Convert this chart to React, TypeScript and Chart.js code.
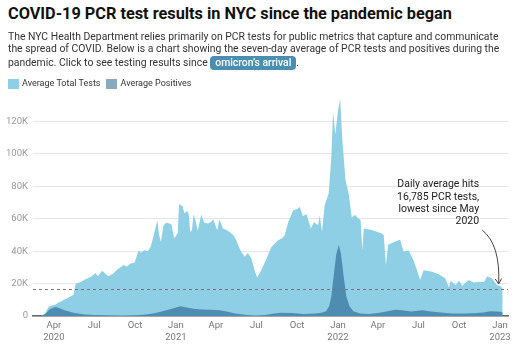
import React, { useEffect, useRef } from "react";
import { Chart, registerables } from "chart.js";

Chart.register(...registerables);

const TITLE = "COVID-19 PCR test results in NYC since the pandemic began";
const DESC_LINES = [
  "The NYC Health Department relies primarily on PCR tests for public metrics that capture and communicate",
  "the spread of COVID. Below is a chart showing the seven-day average of PCR tests and positives during the",
  "pandemic. Click to see testing results since ",
];
const BUTTON_TEXT = "omicron\u2019s arrival";
const SERIES_NAMES = ["Average Total Tests", "Average Positives"];

const TEST_DATES = [
  "2020-03-03", "2020-03-10", "2020-03-14", "2020-03-20", "2020-03-27", "2020-04-04", "2020-04-12", "2020-04-18",
  "2020-04-23", "2020-04-30", "2020-05-08", "2020-05-15", "2020-05-20", "2020-05-31", "2020-06-10", "2020-06-23",
  "2020-07-04", "2020-07-09", "2020-07-19", "2020-07-26", "2020-08-02", "2020-08-12", "2020-08-22", "2020-09-05",
  "2020-09-12", "2020-09-21", "2020-09-30", "2020-10-09", "2020-10-14", "2020-10-22", "2020-10-29", "2020-11-05",
  "2020-11-12", "2020-11-20", "2020-11-24", "2020-11-28", "2020-12-04", "2020-12-10", "2020-12-17", "2020-12-22",
  "2020-12-28", "2021-01-05", "2021-01-08", "2021-01-16", "2021-01-20", "2021-01-26", "2021-01-30", "2021-02-02",
  "2021-02-06", "2021-02-10", "2021-02-15", "2021-02-19", "2021-02-27", "2021-03-06", "2021-03-14", "2021-03-21",
  "2021-03-26", "2021-04-04", "2021-04-09", "2021-04-17", "2021-04-25", "2021-05-02", "2021-05-10", "2021-05-17",
  "2021-05-24", "2021-05-28", "2021-06-05", "2021-06-12", "2021-06-20", "2021-06-27", "2021-07-03", "2021-07-12",
  "2021-07-24", "2021-08-04", "2021-08-19", "2021-08-28", "2021-09-03", "2021-09-11", "2021-09-22", "2021-10-01",
  "2021-10-07", "2021-10-14", "2021-10-22", "2021-11-01", "2021-11-08", "2021-11-17", "2021-11-21", "2021-11-26",
  "2021-12-02", "2021-12-11", "2021-12-17", "2021-12-21", "2021-12-26", "2022-01-01", "2022-01-06", "2022-01-11",
  "2022-01-18", "2022-01-25", "2022-02-01", "2022-02-08", "2022-02-17", "2022-02-21", "2022-02-25", "2022-02-28",
  "2022-03-18", "2022-04-10", "2022-04-14", "2022-04-19", "2022-04-24", "2022-05-10", "2022-05-21", "2022-05-29",
  "2022-06-09", "2022-06-20", "2022-06-28", "2022-07-05", "2022-07-13", "2022-08-01", "2022-08-16", "2022-08-31",
  "2022-09-08", "2022-09-12", "2022-09-23", "2022-10-01", "2022-10-08", "2022-10-15", "2022-10-23", "2022-11-03",
  "2022-11-14", "2022-11-26", "2022-12-03", "2022-12-14", "2022-12-25", "2023-01-02", "2023-01-07",
];
const TOTAL_TESTS = [
  0, 800, 2500, 5500, 6500, 7000, 8500, 9000,
  10000, 10800, 12000, 13000, 19700, 21000, 22500, 24000,
  26500, 24500, 27900, 26000, 24600, 26000, 28700, 31400,
  30500, 32400, 33000, 40600, 39000, 40500, 40000, 42600,
  50000, 59000, 50000, 45700, 56000, 57500, 57000, 56500,
  47800, 51000, 69000, 67700, 63200, 65000, 62500, 51900,
  53000, 62800, 58000, 52600, 62500, 57600, 57000, 58000,
  59700, 52900, 59500, 54000, 53000, 51900, 50000, 46800,
  42000, 39600, 36500, 38800, 35500, 28300, 23800, 28300,
  35500, 42600, 46800, 48000, 49800, 58000, 65200, 66000,
  67300, 61500, 63000, 54000, 58000, 56000, 62100, 51900,
  68300, 75500, 98000, 125700, 112000, 126800, 134000, 108000,
  83700, 75500, 61000, 62300, 60000, 59000, 40600, 54000,
  53000, 50900, 50000, 31400, 44000, 46000, 47000, 39600,
  40600, 34500, 28300, 22200, 28300, 27300, 25800, 23200,
  17600, 21700, 19100, 21700, 18700, 20300, 22200, 20700,
  21200, 21000, 24600, 23200, 19100, 18500, 16785,
];

const POS_DATES = [
  "2020-03-03", "2020-03-14", "2020-03-22", "2020-04-03", "2020-04-10", "2020-04-25", "2020-05-15", "2020-06-10",
  "2020-07-01", "2020-08-01", "2020-09-01", "2020-10-01", "2020-10-20", "2020-11-10", "2020-11-25", "2020-12-15",
  "2021-01-05", "2021-01-12", "2021-01-25", "2021-02-10", "2021-02-28", "2021-03-20", "2021-04-10", "2021-04-25",
  "2021-05-15", "2021-06-10", "2021-07-01", "2021-07-20", "2021-08-10", "2021-08-25", "2021-09-20", "2021-10-15",
  "2021-11-10", "2021-11-25", "2021-12-05", "2021-12-12", "2021-12-17", "2021-12-22", "2021-12-28", "2022-01-03",
  "2022-01-08", "2022-01-14", "2022-01-20", "2022-01-27", "2022-02-05", "2022-02-20", "2022-03-10", "2022-04-01",
  "2022-04-20", "2022-05-10", "2022-05-25", "2022-06-15", "2022-07-10", "2022-07-25", "2022-08-15", "2022-09-15",
  "2022-10-15", "2022-11-10", "2022-11-25", "2022-12-10", "2022-12-25", "2023-01-07",
];
const POSITIVES = [
  0, 1500, 4000, 5500, 5300, 3500, 2000, 1000,
  600, 400, 350, 450, 700, 1500, 2500, 3800,
  5500, 6000, 5200, 4500, 4000, 3800, 3600, 2800,
  1500, 600, 300, 600, 1500, 2000, 1800, 1300,
  1500, 2000, 3000, 6000, 12000, 24000, 38000, 44000,
  38000, 24000, 12000, 6000, 3000, 1500, 1300, 1800,
  2800, 3800, 3600, 2800, 3500, 3000, 2300, 1600,
  1500, 1800, 2200, 3000, 2800, 2500,
];

const X_TICK_DATES = [
  "2020-04-01", "2020-07-01", "2020-10-01", "2021-01-01", "2021-04-01", "2021-07-01",
  "2021-10-01", "2022-01-01", "2022-04-01", "2022-07-01", "2022-10-01", "2023-01-01",
];
const X_TICK_LABELS: (string | string[])[] = [
  ["Apr", "2020"], "Jul", "Oct", ["Jan", "2021"], "Apr", "Jul",
  "Oct", ["Jan", "2022"], "Apr", "Jul", "Oct", ["Jan", "2023"],
];
const Y_TICKS = [0, 20000, 40000, 60000, 80000, 100000, 120000];
const Y_TICK_LABELS = ["0", "20K", "40K", "60K", "80K", "100K", "120K"];

const REF_VALUE = 16785;
const ANNOTATION_LINES = ["Daily average hits", "16,785 PCR tests,", "lowest since May", "2020"];

const TOTAL_COLOR = "#8ecfe5";
const POS_COLOR = "#4e8db1";
const POS_LEGEND_COLOR = "#88a9bf";

const BASE = Date.parse("2020-01-01");
const dayOf = (s: string) => (Date.parse(s) - BASE) / 86400000;

const annotationPlugin = {
  id: "annot",
  afterDatasetsDraw(chart: any) {
    const { ctx, chartArea, scales } = chart;
    const x = scales.x;
    const y = scales.y;
    ctx.save();
    const ry = Math.round(y.getPixelForValue(REF_VALUE)) + 0.5;
    ctx.setLineDash([3, 3]);
    ctx.strokeStyle = "#777";
    ctx.lineWidth = 1;
    ctx.beginPath();
    ctx.moveTo(chartArea.left, ry);
    ctx.lineTo(chartArea.right, ry);
    ctx.stroke();
    ctx.setLineDash([]);
    ctx.font = "10.5px Roboto";
    ctx.fillStyle = "#222";
    ctx.textAlign = "right";
    ctx.textBaseline = "middle";
    const tx = x.getPixelForValue(dayOf("2022-11-15"));
    const ty = y.getPixelForValue(81000);
    ANNOTATION_LINES.forEach((l, i) => ctx.fillText(l, tx, ty + i * 12.3));
    const sx = x.getPixelForValue(dayOf("2022-11-22"));
    const sy = y.getPixelForValue(53000);
    const cx = x.getPixelForValue(dayOf("2023-01-02"));
    const cy = y.getPixelForValue(44000);
    const ex = x.getPixelForValue(dayOf("2022-12-29"));
    const ey = y.getPixelForValue(19800);
    ctx.strokeStyle = "#444";
    ctx.lineWidth = 1;
    ctx.beginPath();
    ctx.moveTo(sx, sy);
    ctx.quadraticCurveTo(cx, cy, ex, ey);
    ctx.stroke();
    ctx.beginPath();
    ctx.moveTo(ex - 3.5, ey - 5);
    ctx.lineTo(ex, ey);
    ctx.lineTo(ex + 3, ey - 5.5);
    ctx.stroke();
    ctx.restore();
  },
};

function ChartView() {
  const ref = useRef<HTMLCanvasElement | null>(null);
  useEffect(() => {
    if (!ref.current) return;
    Chart.defaults.font.family = "Roboto";
    const chart = new Chart(ref.current, {
      type: "line",
      data: {
        datasets: [
          {
            label: SERIES_NAMES[1],
            data: POS_DATES.map((d, i) => ({ x: dayOf(d), y: POSITIVES[i] })),
            backgroundColor: POS_COLOR,
            borderWidth: 0,
            pointRadius: 0,
            fill: "origin",
            order: 0,
          },
          {
            label: SERIES_NAMES[0],
            data: TEST_DATES.map((d, i) => ({ x: dayOf(d), y: TOTAL_TESTS[i] })),
            backgroundColor: TOTAL_COLOR,
            borderWidth: 0,
            pointRadius: 0,
            fill: "origin",
            order: 1,
          },
        ],
      },
      options: {
        animation: false,
        responsive: false,
        devicePixelRatio: 1,
        layout: { padding: { left: 0, right: 19, top: 0, bottom: 0 } },
        plugins: { legend: { display: false }, tooltip: { enabled: false } },
        scales: {
          x: {
            type: "linear",
            min: dayOf("2020-02-14"),
            max: dayOf("2023-01-19"),
            afterBuildTicks: (s: any) => {
              s.ticks = X_TICK_DATES.map((d) => ({ value: dayOf(d) }));
            },
            afterFit: (s: any) => {
              s.height = 39;
            },
            grid: { display: false, drawTicks: false },
            border: { display: true, color: "#666", width: 1.5 },
            ticks: {
              autoSkip: false,
              maxRotation: 0,
              padding: 4,
              color: "#777",
              font: { size: 9.5, lineHeight: 1.25 },
              callback: (v: any) => {
                const i = X_TICK_DATES.findIndex((d) => dayOf(d) === v);
                return i >= 0 ? X_TICK_LABELS[i] : "";
              },
            },
          },
          y: {
            min: 0,
            max: 139000,
            afterBuildTicks: (s: any) => {
              s.ticks = Y_TICKS.map((v) => ({ value: v }));
            },
            afterFit: (s: any) => {
              s.width = 33;
            },
            grid: { color: "#e6e6e6", drawTicks: false },
            border: { display: false },
            ticks: {
              padding: 5,
              color: "#999",
              font: { size: 9.5 },
              callback: (v: any) => {
                const i = Y_TICKS.indexOf(v);
                return i >= 0 ? Y_TICK_LABELS[i] : "";
              },
            },
          },
        },
      },
      plugins: [annotationPlugin],
    });
    return () => chart.destroy();
  }, []);
  return <canvas ref={ref} width={527} height={275} style={{ display: "block" }} />;
}

export default function App() {
  return (
    <div
      style={{
        position: "fixed",
        left: 0,
        top: 0,
        width: 527,
        height: 355,
        background: "#fff",
        fontFamily: "Roboto, sans-serif",
        overflow: "hidden",
      }}
    >
      <div style={{ position: "absolute", left: 0, top: 80, width: 527, height: 275 }}>
        <ChartView />
      </div>
      <div
        style={{
          position: "absolute",
          left: 8,
          top: 6,
          fontSize: 16.3,
          lineHeight: "16.5px",
          fontWeight: 700,
          color: "#111",
          whiteSpace: "nowrap",
        }}
      >
        {TITLE}
      </div>
      <div
        style={{
          position: "absolute",
          left: 8,
          top: 31,
          fontSize: 10.4,
          lineHeight: "12.4px",
          color: "#333",
          whiteSpace: "nowrap",
        }}
      >
        <div>{DESC_LINES[0]}</div>
        <div>{DESC_LINES[1]}</div>
        <div>
          {DESC_LINES[2]}
          <span
            style={{
              display: "inline-block",
              background: "#4a8fb0",
              color: "#fff",
              borderRadius: 4,
              padding: "1px 5px",
              lineHeight: "12px",
              fontWeight: 500,
            }}
          >
            {BUTTON_TEXT}
          </span>
          .
        </div>
      </div>
      <div
        style={{
          position: "absolute",
          left: 8,
          top: 78,
          fontSize: 9,
          lineHeight: "11px",
          color: "#333",
          display: "flex",
          alignItems: "center",
          whiteSpace: "nowrap",
        }}
      >
        <span style={{ display: "inline-block", width: 11, height: 10, background: TOTAL_COLOR, marginRight: 3 }} />
        <span style={{ marginRight: 6 }}>{SERIES_NAMES[0]}</span>
        <span style={{ display: "inline-block", width: 11, height: 10, background: POS_LEGEND_COLOR, marginRight: 3 }} />
        <span>{SERIES_NAMES[1]}</span>
      </div>
    </div>
  );
}
